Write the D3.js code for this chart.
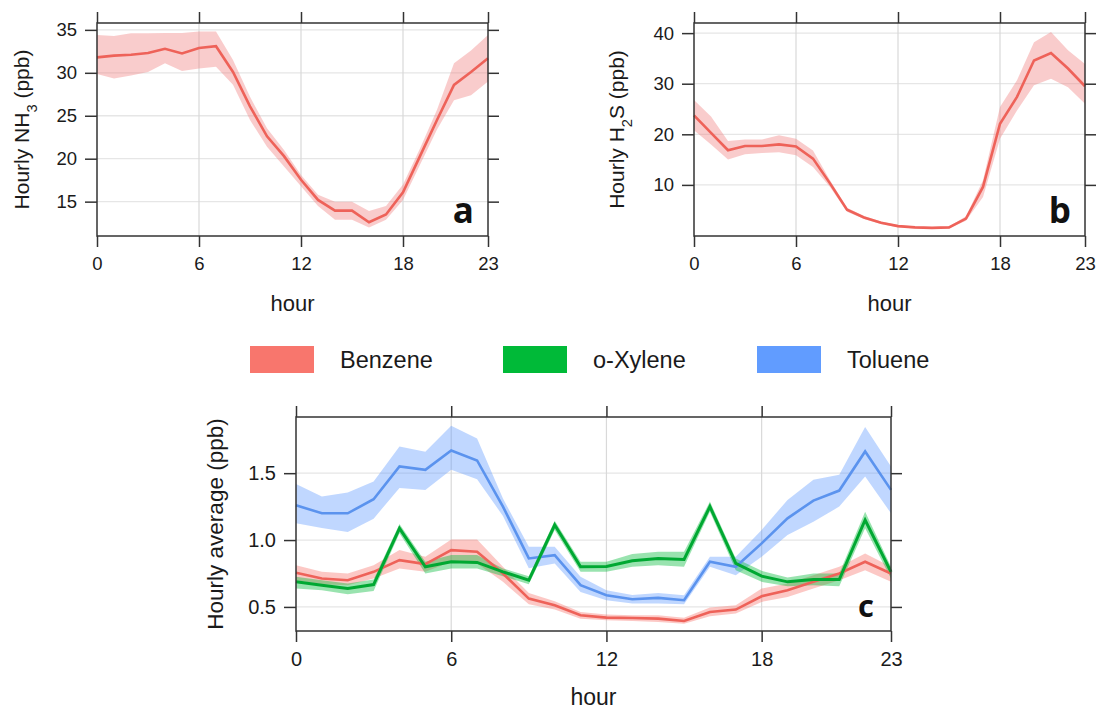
<!DOCTYPE html>
<html>
<head>
<meta charset="utf-8">
<script src="https://cdn.jsdelivr.net/npm/d3@7"></script>
<style>
  body { margin: 0; background: #fff; }
  svg text { font-family: "Liberation Sans", Arial, sans-serif; fill: #1a1a1a; }
  .tag { font-family: "Open Sans", sans-serif !important; font-weight: 700; fill: #111 !important; }
</style>
</head>
<body>
<div id="chart"></div>
<script>
var hours = d3.range(0, 24);
var hourTicks = [0, 6, 12, 18, 23];

// panel a: NH3
var nh3 = [31.8, 32.0, 32.1, 32.3, 32.8, 32.25, 32.9, 33.1, 30.1, 26.1, 22.6, 20.3, 17.55, 15.2, 13.95, 13.95, 12.6, 13.5, 16.1, 20.3, 24.5, 28.6, 30.1, 31.7];
var nh3Upper = [34.4, 34.3, 34.6, 34.6, 34.65, 34.65, 34.8, 34.8, 31.5, 27.2, 23.55, 21.0, 18.1, 15.8, 15.0, 15.0, 13.9, 14.5, 17.0, 21.2, 25.7, 31.1, 32.6, 34.4];
var nh3Lower = [29.85, 29.35, 29.7, 30.1, 31.1, 30.2, 30.5, 30.7, 28.6, 24.5, 21.4, 19.1, 16.8, 14.5, 12.9, 12.9, 12.0, 12.9, 15.2, 19.3, 23.4, 26.8, 27.4, 29.0];

// panel b: H2S
var h2s = [23.75, 20.3, 16.85, 17.7, 17.7, 18.0, 17.6, 15.2, 10.3, 5.1, 3.55, 2.5, 1.85, 1.6, 1.5, 1.6, 3.35, 9.6, 22.1, 27.4, 34.6, 36.05, 33.0, 29.5];
var h2sUpper = [26.8, 23.5, 18.7, 18.95, 18.95, 19.8, 19.1, 16.8, 10.9, 5.5, 3.85, 2.75, 2.05, 1.8, 1.7, 1.8, 3.8, 10.9, 25.4, 30.7, 38.2, 40.2, 36.6, 33.9];
var h2sLower = [20.8, 18.0, 15.0, 16.05, 16.3, 16.45, 15.85, 13.55, 9.6, 4.7, 3.25, 2.25, 1.65, 1.4, 1.3, 1.4, 2.9, 7.6, 19.1, 24.7, 29.7, 31.0, 29.3, 26.05];

// panel c: VOCs
var benzene = [0.755, 0.7125, 0.70, 0.7625, 0.85, 0.82, 0.925, 0.9125, 0.75, 0.5625, 0.5125, 0.4375, 0.42, 0.4175, 0.4125, 0.395, 0.4625, 0.48, 0.58, 0.625, 0.6875, 0.75, 0.8375, 0.75];
var benzeneUpper = [0.8125, 0.7625, 0.75, 0.8125, 0.925, 0.875, 1.005, 1.005, 0.80, 0.605, 0.5425, 0.4625, 0.4425, 0.4375, 0.4375, 0.42, 0.495, 0.5125, 0.6375, 0.675, 0.7375, 0.80, 0.90, 0.80];
var benzeneLower = [0.70, 0.67, 0.6625, 0.7125, 0.7875, 0.7625, 0.8375, 0.825, 0.6875, 0.52, 0.48, 0.4125, 0.40, 0.395, 0.3875, 0.375, 0.43, 0.45, 0.5375, 0.575, 0.6375, 0.70, 0.775, 0.6875];

var xylene = [0.6875, 0.6625, 0.6375, 0.6675, 1.0875, 0.80, 0.8375, 0.8325, 0.7625, 0.70, 1.1125, 0.80, 0.8025, 0.845, 0.8625, 0.855, 1.25, 0.825, 0.73, 0.6875, 0.705, 0.705, 1.15, 0.7625];
var xyleneUpper = [0.725, 0.70, 0.675, 0.705, 1.12, 0.8375, 0.8875, 0.8875, 0.7875, 0.73, 1.145, 0.8375, 0.8375, 0.895, 0.9125, 0.9125, 1.2875, 0.8625, 0.77, 0.72, 0.75, 0.75, 1.2125, 0.80];
var xyleneLower = [0.6375, 0.625, 0.595, 0.62, 1.05, 0.75, 0.7875, 0.7875, 0.73, 0.67, 1.075, 0.7625, 0.7625, 0.80, 0.8125, 0.80, 1.2125, 0.775, 0.6875, 0.655, 0.6625, 0.655, 1.0875, 0.7125];

var toluene = [1.26, 1.20, 1.20, 1.305, 1.55, 1.525, 1.67, 1.595, 1.25, 0.8625, 0.8875, 0.6625, 0.5875, 0.5575, 0.5675, 0.55, 0.8375, 0.80, 0.975, 1.1625, 1.295, 1.37, 1.6625, 1.375];
var tolueneUpper = [1.42, 1.325, 1.355, 1.4375, 1.70, 1.66, 1.855, 1.76, 1.31, 0.95, 0.95, 0.725, 0.625, 0.59, 0.605, 0.5875, 0.875, 0.875, 1.075, 1.30, 1.45, 1.4875, 1.845, 1.55];
var tolueneLower = [1.125, 1.09, 1.06, 1.16, 1.39, 1.375, 1.525, 1.455, 1.18, 0.79, 0.825, 0.6125, 0.55, 0.525, 0.525, 0.52, 0.80, 0.7375, 0.875, 1.0375, 1.1375, 1.25, 1.475, 1.20];

var legendNames = ["Benzene", "o-Xylene", "Toluene"];
var legendColors = ["#F8766D", "#00BA38", "#619CFF"];

var svg = d3.select("#chart")
    .append("svg")
    .attr("width", 1098)
    .attr("height", 711);

function rows(mean, upper, lower) {
    return hours.map(function (h, i) {
        return { h: h, m: mean[i], hi: upper[i], lo: lower[i] };
    });
}

function panel(opt) {
    var x = d3.scaleLinear().domain([0, 23]).range([opt.left, opt.right]);
    var y = d3.scaleLinear().domain(opt.yDomain).range([opt.bottom, opt.top]);
    var g = svg.append("g");

    // grid
    g.selectAll(".hgrid").data(opt.yTicks).enter().append("line")
        .attr("x1", opt.left).attr("x2", opt.right)
        .attr("y1", function (d) { return y(d); }).attr("y2", function (d) { return y(d); })
        .attr("stroke", "#e6e6e6").attr("stroke-width", 1.3);
    g.selectAll(".vgrid").data([6, 12, 18]).enter().append("line")
        .attr("y1", opt.top).attr("y2", opt.bottom)
        .attr("x1", function (d) { return x(d); }).attr("x2", function (d) { return x(d); })
        .attr("stroke", "#d9d9d9").attr("stroke-width", 1.2);

    var area = d3.area()
        .x(function (d) { return x(d.h); })
        .y0(function (d) { return y(d.lo); })
        .y1(function (d) { return y(d.hi); });
    var line = d3.line()
        .x(function (d) { return x(d.h); })
        .y(function (d) { return y(d.m); });

    opt.series.forEach(function (s) {
        g.append("path").datum(s.data)
            .attr("d", area)
            .attr("fill", s.fill)
            .attr("fill-opacity", 0.4);
    });
    opt.series.forEach(function (s) {
        g.append("path").datum(s.data)
            .attr("d", line)
            .attr("fill", "none")
            .attr("stroke", s.stroke)
            .attr("stroke-width", s.width);
    });

    // axes
    var fs = opt.tickFont;
    var left = g.append("g").attr("transform", "translate(" + opt.left + ",0)")
        .call(d3.axisLeft(y).tickValues(opt.yTicks).tickSize(12).tickPadding(8).tickSizeOuter(0)
            .tickFormat(opt.yFormat || d3.format("d")));
    var right = g.append("g").attr("transform", "translate(" + opt.right + ",0)")
        .call(d3.axisRight(y).tickValues(opt.yTicks).tickSize(11).tickSizeOuter(0).tickFormat(""));
    var bottom = g.append("g").attr("transform", "translate(0," + opt.bottom + ")")
        .call(d3.axisBottom(x).tickValues(hourTicks).tickSize(11).tickPadding(10).tickSizeOuter(0));
    var top = g.append("g").attr("transform", "translate(0," + opt.top + ")")
        .call(d3.axisTop(x).tickValues(hourTicks).tickSize(11).tickSizeOuter(0).tickFormat(""));
    [left, right, bottom, top].forEach(function (a) {
        a.select(".domain").remove();
        a.selectAll(".tick line").attr("stroke", "#333").attr("stroke-width", 1.5);
        a.selectAll(".tick text").style("font-size", fs + "px").attr("fill", "#1a1a1a");
    });

    g.append("rect")
        .attr("x", opt.left).attr("y", opt.top)
        .attr("width", opt.right - opt.left).attr("height", opt.bottom - opt.top)
        .attr("fill", "none").attr("stroke", "#333").attr("stroke-width", 1.5);

    // x title
    g.append("text")
        .attr("x", (opt.left + opt.right) / 2)
        .attr("y", opt.xTitleY)
        .attr("text-anchor", "middle")
        .style("font-size", opt.titleFont + "px")
        .text("hour");

    // y title
    var yt = g.append("text")
        .attr("transform", "translate(" + opt.yTitleX + "," + ((opt.top + opt.bottom) / 2) + ") rotate(-90)")
        .attr("text-anchor", "middle")
        .attr("dy", "0.35em")
        .style("font-size", opt.yTitleFont + "px");
    opt.yTitle.forEach(function (p) {
        var t = yt.append("tspan").text(p.t);
        if (p.sub) {
            t.attr("baseline-shift", "sub").style("font-size", (opt.yTitleFont * 0.7) + "px");
        }
    });

    g.append("text")
        .attr("class", "tag")
        .attr("x", opt.tagX).attr("y", opt.tagY)
        .attr("text-anchor", "end")
        .style("font-size", opt.tagFont + "px")
        .text(opt.tag);
}

panel({
    left: 97, right: 488, top: 23, bottom: 236,
    yDomain: [11.0, 35.8], yTicks: [15, 20, 25, 30, 35],
    series: [{ data: rows(nh3, nh3Upper, nh3Lower), fill: "#F08080", stroke: "#EE6259", width: 2.6 }],
    tickFont: 18.5, titleFont: 22, yTitleFont: 21,
    xTitleY: 311, yTitleX: 22,
    yTitle: [{ t: "Hourly NH" }, { t: "3", sub: true }, { t: " (ppb)" }],
    tag: "a", tagX: 474, tagY: 223, tagFont: 35
});

panel({
    left: 694, right: 1085, top: 23, bottom: 236,
    yDomain: [-0.1, 42], yTicks: [10, 20, 30, 40],
    series: [{ data: rows(h2s, h2sUpper, h2sLower), fill: "#F08080", stroke: "#EE6259", width: 2.6 }],
    tickFont: 18.5, titleFont: 22, yTitleFont: 21,
    xTitleY: 311, yTitleX: 617,
    yTitle: [{ t: "Hourly H" }, { t: "2", sub: true }, { t: "S (ppb)" }],
    tag: "b", tagX: 1071, tagY: 223, tagFont: 35
});

panel({
    left: 296, right: 891, top: 417, bottom: 631,
    yDomain: [0.32, 1.92], yTicks: [0.5, 1.0, 1.5], yFormat: d3.format(".1f"),
    series: [
        { data: rows(toluene, tolueneUpper, tolueneLower), fill: "#619CFF", stroke: "#5B93EE", width: 2.6 },
        { data: rows(benzene, benzeneUpper, benzeneLower), fill: "#F8766D", stroke: "#EE6259", width: 2.6 },
        { data: rows(xylene, xyleneUpper, xyleneLower), fill: "#00BA38", stroke: "#00A832", width: 3 }
    ],
    tickFont: 20, titleFont: 23, yTitleFont: 22.5,
    xTitleY: 705, yTitleX: 215,
    yTitle: [{ t: "Hourly average (ppb)" }],
    tag: "c", tagX: 874, tagY: 617, tagFont: 31
});

// legend
var legendX = [250, 503, 757];
var legend = svg.selectAll(".legend").data(legendNames).enter().append("g")
    .attr("class", "legend")
    .attr("transform", function (d, i) { return "translate(" + legendX[i] + ",346)"; });
legend.append("rect")
    .attr("width", 64).attr("height", 27)
    .attr("fill", function (d, i) { return legendColors[i]; });
legend.append("text")
    .attr("x", 90).attr("y", 13.5).attr("dy", "0.35em")
    .style("font-size", "23.5px")
    .text(function (d) { return d; });
</script>
</body>
</html>
